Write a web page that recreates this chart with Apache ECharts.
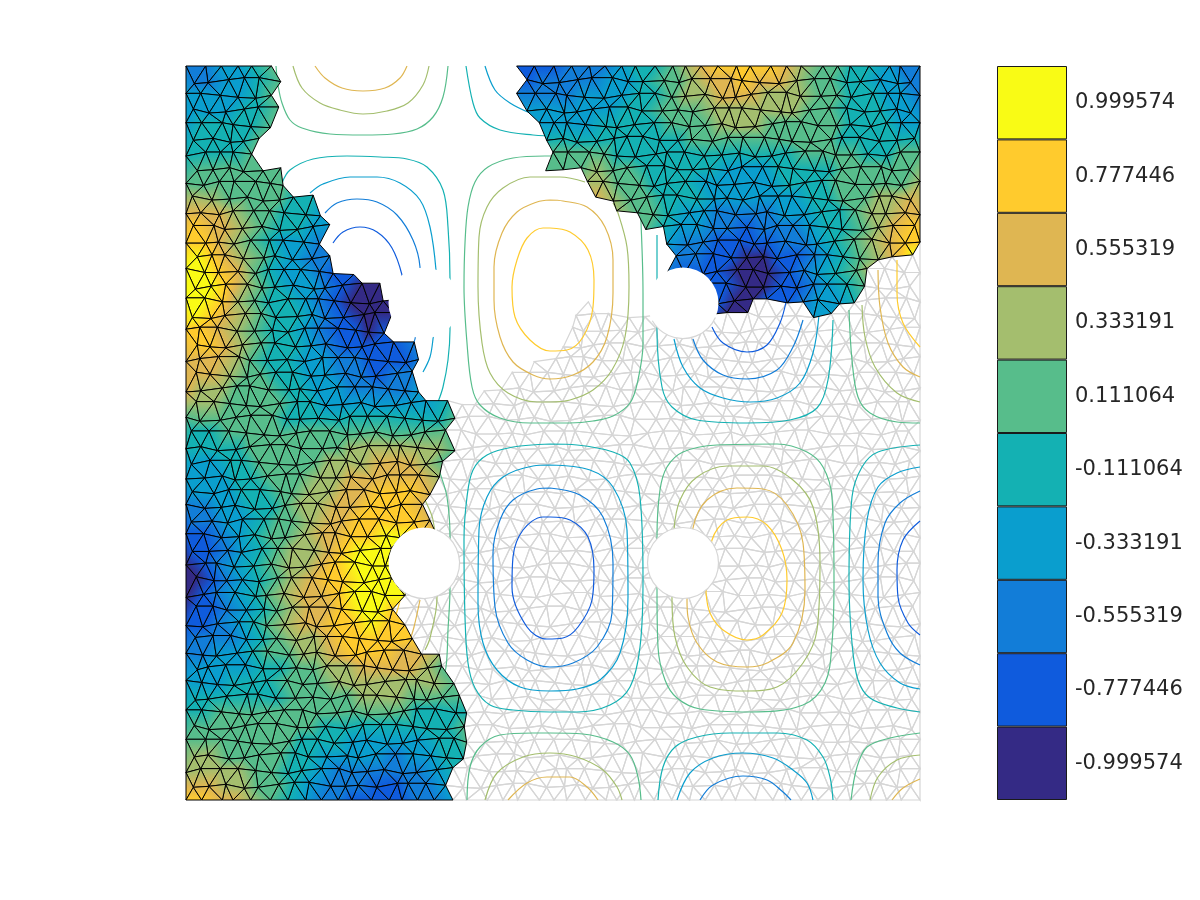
<!DOCTYPE html>
<html>
<head>
<meta charset="utf-8">
<style>html,body{margin:0;padding:0;background:#fff}#c{width:1200px;height:900px}</style>
<script src="https://cdn.jsdelivr.net/npm/echarts@6/dist/echarts.min.js"></script>
</head>
<body>
<div id="c"></div>
<script>
// Colour bar
const levelLabels = ['-0.999574','-0.777446','-0.555319','-0.333191','-0.111064','0.111064','0.333191','0.555319','0.777446','0.999574'];
const levelValues = [-0.999574,-0.777446,-0.555319,-0.333191,-0.111064,0.111064,0.333191,0.555319,0.777446,0.999574];
const levelColors = ['#342A85','#0F5BDD','#127DD8','#0A9ECE','#14B1B3','#57BD8B','#A4BE6E','#DFB652','#FFCB2D','#F9FB15'];

// Mesh nodes.
// digit = colour level at a shaded node, x = node of the grey mesh, . = no mesh.
// Even rows hold 45 nodes, odd rows 44 (staggered by half a cell).
const fieldRows = [
"22334 5.... ..... ..... 11122 23445 67888 87655 44322",
"22334 5.... ..... ..... 12222 33455 67787 76554 4332",
"33334 5.... ..... ..... 22223 33445 66777 66655 44332",
"33344 5.... ..... ..... 33333 34455 56666 66554 4433",
"34444 5.... ..... ..... .3333 44445 55666 55555 44433",
"44445 ..... ..... ..... .4444 44444 55555 55554 4444",
"44445 ..... ..... ..... ..555 54444 44444 44555 54455",
"55555 5.... ..... ..... .5556 55444 44333 44445 5555",
"55555 55... ..... ..... ....6 65544 43333 34445 55556",
"66555 544.. ..... ..... ....7 65544 43333 33445 5667",
"77765 5443. ..... ..... ..... .6554 33222 23344 56677",
"87765 4433. ..... ..... ..... ..543 32212 22344 5678",
"88765 4332. ..... ..... ..... ....3 22111 12234 56788",
"98765 4322. ..... ..... ..... ....2 21100 11234 5679",
"99875 43321 1.... ..... ..... ....2 11100 01234 56xxx",
"99865 43321 00... ..... ..... ....1 11100 11234 5xxx",
"99865 44321 0000. ..... ....x ..... .1100 11233 4xxxx",
"98765 44321 000.. ..... ...xx xxxxx x100x xx33x xxxx",
"88765 44321 101.. ..... ...xx xxxxx xxxxx xxxxx xxxxx",
"88765 44321 1112. ..... ..xxx xxxxx xxxxx xxxxx xxxx",
"77765 44332 21112 ..... .xxxx xxxxx xxxxx xxxxx xxxxx",
"77655 44332 2122. ....x xxxxx xxxxx xxxxx xxxxx xxxx",
"76655 54433 22223 ...xx xxxxx xxxxx xxxxx xxxxx xxxxx",
"66555 54433 33333 4xxxx xxxxx xxxxx xxxxx xxxxx xxxx",
"55555 54444 44444 45xxx xxxxx xxxxx xxxxx xxxxx xxxxx",
"44555 55555 55555 5xxxx xxxxx xxxxx xxxxx xxxxx xxxx",
"44445 55555 66666 65xxx xxxxx xxxxx xxxxx xxxxx xxxxx",
"33445 55566 67776 5xxxx xxxxx xxxxx xxxxx xxxxx xxxx",
"33344 55566 77777 6xxxx xxxxx xxxxx xxxxx xxxxx xxxxx",
"33344 55667 78887 xxxxx xxxxx xxxxx xxxxx xxxxx xxxx",
"22334 45667 78887 xxxxx xxxxx xxxxx xxxxx xxxxx xxxxx",
"22334 55677 88887 xxxxx xxxxx xxxxx xxxxx xxxxx xxxx",
"11234 55677 88998 7xxxx xxxxx xxxxx xxxxx xxxxx xxxxx",
"11234 56678 9999x xxxxx xxxxx xxxxx xxxxx xxxxx xxxx",
"01234 56678 9999x xxxxx xxxxx xxxxx xxxxx xxxxx xxxxx",
"01234 56788 9999x xxxxx xxxxx xxxxx xxxxx xxxxx xxxx",
"01234 56778 9999x xxxxx xxxxx xxxxx xxxxx xxxxx xxxxx",
"11234 56778 998xx xxxxx xxxxx xxxxx xxxxx xxxxx xxxx",
"11234 56778 8988x xxxxx xxxxx xxxxx xxxxx xxxxx xxxxx",
"22234 56678 8888x xxxxx xxxxx xxxxx xxxxx xxxxx xxxx",
"22334 55667 88877 6xxxx xxxxx xxxxx xxxxx xxxxx xxxxx",
"33334 45566 77776 5xxxx xxxxx xxxxx xxxxx xxxxx xxxx",
"33344 45556 66666 65xxx xxxxx xxxxx xxxxx xxxxx xxxxx",
"44444 45555 66655 55xxx xxxxx xxxxx xxxxx xxxxx xxxx",
"44555 55555 55554 444xx xxxxx xxxxx xxxxx xxxxx xxxxx",
"55555 55544 44444 45xxx xxxxx xxxxx xxxxx xxxxx xxxx",
"55555 55444 33333 445xx xxxxx xxxxx xxxxx xxxxx xxxxx",
"66555 54433 33233 44xxx xxxxx xxxxx xxxxx xxxxx xxxx",
"66665 54432 22222 34xxx xxxxx xxxxx xxxxx xxxxx xxxxx",
"77665 54322 21122 3xxxx xxxxx xxxxx xxxxx xxxxx xxxx",
"88776 54322 11112 23xxx xxxxx xxxxx xxxxx xxxxx xxxxx"
];
// Hand-set small node displacements: the reference mesh is unstructured.
const nudgeX = [2,-2,1,3,-2,-3,2,0,-1,2,-3,3,-1,1,-3,2,0,-2,3,-2,1,-1,3];
const nudgeY = [-2,2,0,-2,1,3,-1,-3,1,2,-2,0,3,-2,2,-1,2,-3,1,0,-2];

// Contour lines: level index, then points in domain units (0..734, y downward)
const contourLines = [
[7,[[129,0],[139,12],[156,22],[177,25],[199,22],[214,12],[221,0]]],
[6,[[107,0],[116,22],[134,37],[154,44],[177,48],[201,45],[222,37],[237,19],[243,0]]],
[5,[[90,0],[92,19],[96,37],[104,54],[116,62],[144,68],[177,69],[207,68],[231,63],[247,51],[257,31],[262,0]]],
[4,[[96,117],[104,104],[127,93],[161,90],[194,91],[221,93],[241,101],[257,124],[262,161],[264,213],[264,264],[262,294],[257,321],[252,336]]],
[3,[[124,127],[137,118],[164,111],[191,111],[214,117],[234,134],[244,161],[250,204],[251,237],[247,273],[244,291],[237,306]]],
[2,[[139,147],[151,137],[171,133],[191,136],[211,149],[227,174],[234,201],[235,237],[229,273],[226,281]]],
[1,[[147,177],[157,166],[174,161],[191,166],[206,182],[216,209],[218,229]]],
[4,[[280,0],[287,37],[294,52],[314,64],[347,69],[374,70]]],
[3,[[299,0],[309,24],[324,37],[344,47]]],
[5,[[454,149],[455,156],[457,227],[457,277],[452,314],[444,337],[427,350],[407,355],[384,357],[344,357],[314,352],[294,339],[286,321],[281,277],[278,221],[279,177],[282,141],[289,116],[302,101],[327,92],[359,90],[384,90]]],
[6,[[427,137],[432,147],[441,181],[443,221],[439,271],[426,304],[407,324],[384,334],[364,336],[351,336],[322,327],[304,307],[296,277],[292,221],[293,171],[301,141],[317,122],[344,111],[374,111],[399,116]]],
[7,[[364,134],[351,136],[331,146],[316,167],[308,201],[308,234],[314,271],[327,296],[347,309],[364,313],[387,309],[407,296],[421,271],[427,227],[427,194],[419,161],[401,141],[377,135],[364,134]]],
[8,[[364,162],[357,162],[341,172],[331,194],[326,221],[329,251],[344,274],[364,285],[381,284],[397,271],[407,241],[408,214],[402,184],[384,166],[364,162]]],
[1,[[526,261],[537,277],[561,286],[581,279],[594,257],[600,236]]],
[2,[[507,273],[517,294],[537,309],[561,313],[591,304],[607,281],[617,254]]],
[3,[[488,273],[497,301],[514,322],[537,332],[564,336],[591,332],[614,317],[627,287],[633,249]]],
[4,[[471,169],[471,213],[471,264],[476,321],[486,341],[511,354],[561,357],[604,354],[631,342],[642,314],[647,254]]],
[5,[[663,244],[666,294],[672,331],[684,347],[711,356],[734,357]]],
[6,[[676,239],[679,271],[689,301],[711,327],[734,336]]],
[7,[[692,204],[694,241],[702,277],[717,301],[734,311]]],
[8,[[711,194],[711,227],[717,257],[734,281]]],
[4,[[364,378],[327,381],[301,389],[287,404],[281,431],[278,474],[279,551],[282,597],[289,622],[304,639],[327,644],[364,646],[391,646],[424,639],[444,621],[454,581],[457,514],[454,431],[444,397],[427,386],[391,379],[364,378]]],
[3,[[364,399],[347,400],[317,411],[301,431],[293,464],[292,537],[297,577],[311,604],[334,621],[364,625],[391,623],[414,614],[434,587],[442,531],[441,464],[427,421],[404,404],[364,399]]],
[2,[[364,422],[351,423],[327,434],[314,454],[307,487],[309,541],[322,577],[341,594],[364,601],[387,597],[411,581],[426,547],[427,497],[417,451],[394,429],[364,422]]],
[1,[[364,451],[357,451],[337,464],[327,491],[326,521],[341,561],[361,573],[377,572],[392,561],[406,534],[408,504],[402,471],[384,454],[364,451]]],
[5,[[471,524],[471,471],[474,424],[481,401],[497,386],[531,379],[591,378],[621,386],[637,401],[646,431],[648,514],[646,577],[639,617],[617,639],[564,646],[514,643],[491,632],[479,614],[472,581],[471,524]]],
[6,[[486,534],[488,464],[494,434],[511,411],[541,400],[577,400],[607,414],[627,441],[634,497],[631,564],[617,597],[591,621],[561,625],[524,621],[501,601],[489,571],[486,534]]],
[7,[[501,534],[507,462],[521,434],[551,422],[577,423],[601,439],[617,477],[619,524],[607,577],[581,597],[561,601],[531,596],[511,577],[502,551],[501,534]]],
[8,[[520,526],[526,474],[541,454],[561,451],[581,459],[596,484],[601,514],[596,547],[577,569],[561,574],[537,564],[524,547],[520,526]]],
[4,[[734,646],[711,642],[684,632],[672,614],[666,577],[663,514],[666,431],[676,401],[692,386],[734,379]]],
[3,[[734,623],[714,617],[694,597],[682,564],[677,514],[681,454],[692,421],[711,407],[734,401]]],
[2,[[734,599],[714,587],[701,567],[692,531],[692,497],[699,457],[714,437],[734,425]]],
[1,[[734,569],[722,557],[712,531],[711,504],[717,474],[734,455]]],
[5,[[251,399],[254,407],[261,431],[264,471],[264,522],[262,564],[260,601],[254,624]]],
[6,[[234,424],[239,434],[247,454],[251,494],[251,532],[244,572],[239,584]]],
[7,[[234,534],[228,561],[224,574]]],
[8,[[216,527],[209,552],[204,564]]],
[5,[[281,734],[284,701],[294,681],[314,669],[347,667],[364,667],[397,668],[427,676],[444,689],[452,711],[455,734]]],
[6,[[299,734],[311,707],[337,691],[364,687],[391,691],[417,704],[431,721],[436,734]]],
[7,[[322,734],[341,717],[361,711],[384,711],[401,721],[412,734]]],
[4,[[472,734],[477,701],[489,681],[511,671],[544,667],[591,667],[621,674],[637,691],[644,711],[647,734]]],
[3,[[491,734],[504,707],[527,692],[557,687],[587,692],[607,704],[621,717],[627,734]]],
[2,[[514,734],[527,719],[557,710],[581,714],[597,726],[605,734]]],
[5,[[665,734],[671,701],[681,681],[704,672],[734,667]]],
[6,[[684,734],[692,711],[711,694],[734,689]]],
[7,[[706,734],[717,722],[734,713]]]
];
// Holes: centre x, centre y, radius, grey outline start and end angle in degrees
const holes = [
[238,237,35.5,0,0],
[497,237,35.5,24,150],
[238,497,35.5,-69,135],
[497,497,35.5,0,360]
];

const SIZE = 734, ROWS = 50, COLS = 44;
const grid = fieldRows.map(s => s.replace(/ /g,'').split(''));
function node(i,j){
  const odd = i % 2 === 1;
  const edgeX = !odd && (j === 0 || j === COLS);
  const edgeY = i === 0 || i === ROWS;
  const x = (j + (odd ? 0.5 : 0)) * SIZE / COLS + (edgeX ? 0 : nudgeX[(i*7 + j*3) % nudgeX.length]);
  const y = i * SIZE / ROWS + (edgeY ? 0 : nudgeY[(i*5 + j*11) % nudgeY.length]);
  const c = (grid[i] && grid[i][j]) || '.';
  return {x, y, c};
}
const shaded = [], greyMesh = [];
function tri(a,b,c){
  const cs = [a.c,b.c,c.c];
  if (cs.indexOf('.') >= 0) return;
  const row = [a.x,a.y,b.x,b.y,c.x,c.y];
  if (cs.indexOf('x') >= 0) greyMesh.push(row);
  else shaded.push(row.concat(cs.map(d => levelValues[+d])));
}
for (let i = 0; i < ROWS; i++) {
  const evenRow = i % 2 === 0 ? i : i + 1, oddRow = i % 2 === 0 ? i + 1 : i;
  for (let j = 0; j < COLS; j++) tri(node(evenRow,j), node(evenRow,j+1), node(oddRow,j));
  for (let j = 0; j < COLS - 1; j++) tri(node(oddRow,j), node(oddRow,j+1), node(evenRow,j+1));
  if (i % 2 === 0) {
    tri(node(i,0), node(i+1,0), node(i+2,0));
    tri(node(i,COLS), node(i+1,COLS-1), node(i+2,COLS));
  }
}

function hex(c){return [1,3,5].map(k=>parseInt(c.substr(k,2),16));}
function colorAt(v){
  let k = 0;
  while (k < levelValues.length - 2 && v > levelValues[k+1]) k++;
  const t = Math.max(0,Math.min(1,(v-levelValues[k])/(levelValues[k+1]-levelValues[k])));
  const a = hex(levelColors[k]), b = hex(levelColors[k+1]);
  return 'rgb('+a.map((q,n)=>Math.round(q+(b[n]-q)*t)).join(',')+')';
}
function triangleFill(p,v){
  const lo = Math.min(v[0],v[1],v[2]), hi = Math.max(v[0],v[1],v[2]);
  if (hi - lo < 1e-6) return colorAt(lo);
  const ux=p[1][0]-p[0][0], uy=p[1][1]-p[0][1], wx=p[2][0]-p[0][0], wy=p[2][1]-p[0][1];
  const det = ux*wy - uy*wx;
  const dv1 = v[1]-v[0], dv2 = v[2]-v[0];
  const gx = (dv1*wy - dv2*uy)/det, gy = (ux*dv2 - wx*dv1)/det;
  const g2 = gx*gx + gy*gy;
  const s = p[v.indexOf(lo)];
  const stops = [{offset:0,color:colorAt(lo)}];
  levelValues.forEach(l => { if (l > lo && l < hi) stops.push({offset:(l-lo)/(hi-lo),color:colorAt(l)}); });
  stops.push({offset:1,color:colorAt(hi)});
  return {type:'linear',global:true,x:s[0],y:s[1],x2:s[0]+gx*(hi-lo)/g2,y2:s[1]+gy*(hi-lo)/g2,colorStops:stops};
}
function pts(api){
  return [0,2,4].map(k => api.coord([api.value(k),api.value(k+1)]));
}
const contourSeries = contourLines.map(c => ({
  type:'line', xAxisIndex:0, yAxisIndex:0, z:3, silent:true, symbol:'none', smooth:0.35,
  lineStyle:{color:levelColors[c[0]],width:1.2}, data:c[1], animation:false
}));

const chart = echarts.init(document.getElementById('c'),null,{renderer:'canvas'});
chart.setOption({
  backgroundColor:'#fff', animation:false,
  grid:[{left:186,top:66,width:734,height:734,show:false},{left:997,top:66,width:70,height:734,show:false}],
  xAxis:[{type:'value',min:0,max:SIZE,show:false,gridIndex:0},{type:'value',min:0,max:1,show:false,gridIndex:1}],
  yAxis:[{type:'value',min:0,max:SIZE,inverse:true,show:false,gridIndex:0},
    {type:'category',gridIndex:1,position:'right',data:levelLabels,axisLine:{show:false},axisTick:{show:false},
     axisLabel:{align:'left',margin:8,fontSize:21,color:'#262626',fontFamily:'DejaVu Sans',interval:0,padding:[4,0,0,0]}}],
  series:[
    {type:'custom',z:2,silent:true,progressive:0,clip:false,data:greyMesh,encode:{x:[0,2,4],y:[1,3,5]},
     renderItem:(p,api)=>({type:'polygon',shape:{points:pts(api)},style:{fill:'none',stroke:'#d6d6d6',lineWidth:1.2}})},
    ...contourSeries,
    {type:'custom',z:4,silent:true,progressive:0,clip:false,data:shaded,encode:{x:[0,2,4],y:[1,3,5]},
     renderItem:(p,api)=>{
       const q = pts(api);
       return {type:'polygon',shape:{points:q},style:{fill:triangleFill(q,[api.value(6),api.value(7),api.value(8)]),stroke:'#000',lineWidth:1}};
     }},
    {type:'custom',z:5,silent:true,progressive:0,data:holes,encode:{x:0,y:1},
     renderItem:(p,api)=>{
       const c = api.coord([api.value(0),api.value(1)]);
       const r = api.size([api.value(2),0])[0];
       const a = api.value(3), b = api.value(4);
       const kids = [{type:'circle',shape:{cx:c[0],cy:c[1],r:r},style:{fill:'#fff'}}];
       if (b !== a) kids.push({type:'arc',shape:{cx:c[0],cy:c[1],r:r,startAngle:a*Math.PI/180,endAngle:b*Math.PI/180,clockwise:true},style:{fill:'none',stroke:'#d6d6d6',lineWidth:1.2}});
       return {type:'group',children:kids};
     }},
    {type:'bar',xAxisIndex:1,yAxisIndex:1,barWidth:'100%',silent:true,z:6,
     data:levelColors.map(c=>({value:1,itemStyle:{color:c,borderColor:'#1a1a1a',borderWidth:1}}))}
  ]
});
</script>
</body>
</html>
